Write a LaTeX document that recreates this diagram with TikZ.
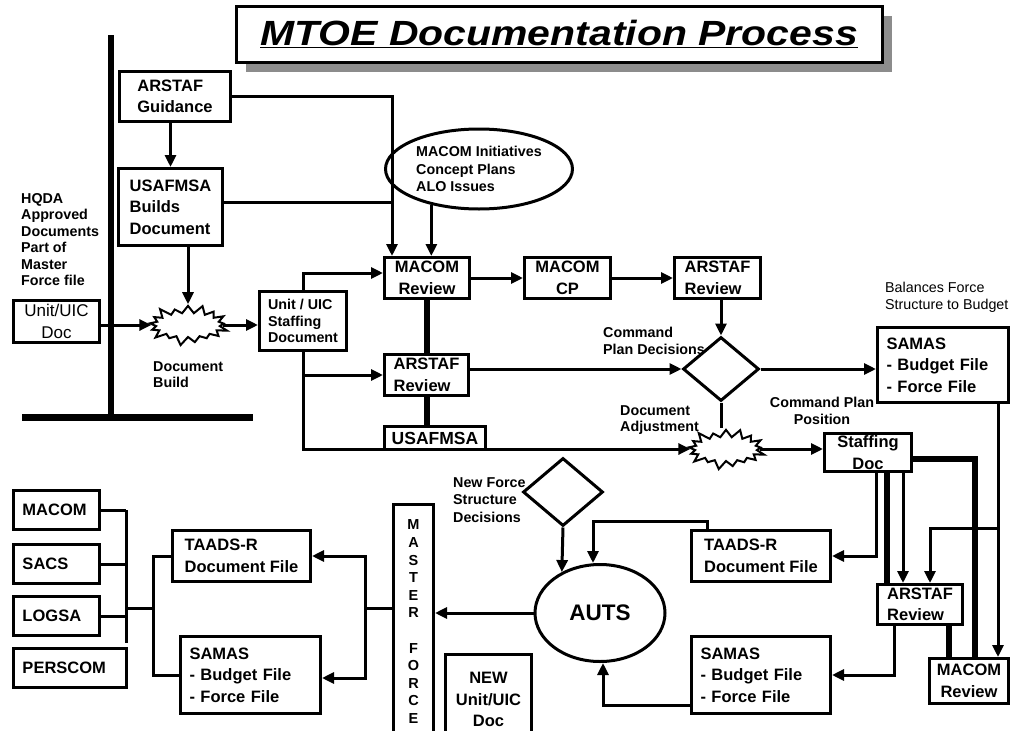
\documentclass[tikz,border=0pt]{standalone}
\usepackage{fontspec}
\setmainfont{Liberation Sans}
\usepackage{tikz}
\usetikzlibrary{arrows.meta,shapes.geometric,shapes.symbols,shadows}

\newcommand{\bxfont}{\fontsize{16.5}{21.5}\selectfont\bfseries}
\newcommand{\ntfont}{\fontsize{14.3}{16.5}\selectfont\bfseries}
\newcommand{\rgfont}{\fontsize{17}{22}\selectfont}
\newcommand{\titlefnt}{\fontsize{35}{40}\selectfont\bfseries\itshape}

\begin{document}
\begin{tikzpicture}[x=1pt, y=-1pt,
    >={Triangle[length=12pt,width=11pt]},
    box/.style={draw, line width=3pt, fill=white, font=\bxfont, align=center, inner sep=2pt},
    sz/.style 2 args={minimum width=#1pt, minimum height=#2pt},
    pad/.style={align=left, inner xsep=9pt, text width=#1pt},
    note/.style={font=\ntfont, align=left, inner sep=0pt, anchor=north west},
    wire/.style={line width=3pt},
    heavy/.style={line width=6pt},
    burst/.style={starburst, draw, line width=2pt, fill=white, starburst points=17,
      starburst point height=10pt, minimum width=84pt, minimum height=44pt, inner sep=0pt},
    gate/.style={diamond, draw, line width=3pt, fill=white, inner sep=0pt}]
        \useasboundingbox (0,0) rectangle (1010,731);

        \node[box, sz={646}{56}, drop shadow={shadow xshift=10pt, shadow yshift=-10pt,
          fill=black!45, opacity=1}] (TTL) at (559,34)
          {\titlefnt\scalebox{1.17}[1]{\underline{MTOE Documentation Process}}};

        \coordinate (VT) at (111,35);
        \coordinate (VB) at (111,414);
        \coordinate (HL) at (22,417);
        \coordinate (HR) at (253,417);
        \draw[line width=6pt] (VT) -- (VB);
        \draw[line width=7pt] (HL) -- (HR);

        \node[box, sz={111}{50}, align=left] (AG) at (175,96.5) {ARSTAF\\Guidance};
        \node[box, sz={104}{77}, align=left] (UB) at (170.5,207) {USAFMSA\\Builds\\Document};
        \node[note] (HQ) at (21,193) {HQDA\\Approved\\Documents\\Part of\\Master\\Force file};
        \node[box, sz={86}{42}, font=\rgfont] (UD) at (56.5,321.5) {Unit/UIC\\Doc};
        \node[burst] (DB) at (188,325) {};
        \node[note] (DBL) at (153,361) {Document\\Build};
        \node[box, sz={87}{59}, font=\ntfont, align=left] (SD) at (303,321)
          {Unit / UIC\\Staffing\\Document};

        \node[draw, ellipse, line width=3pt, fill=white, sz={160}{80},
          font={\fontsize{14.3}{17.5}\selectfont\bfseries}, align=left] (MI) at (479,169)
          {MACOM Initiatives\\Concept Plans\\ALO Issues};
        \node[box, sz={85}{41}] (MR) at (427,278) {MACOM\\Review};
        \node[box, sz={86}{41}] (CP) at (567.5,278) {MACOM\\CP};
        \node[box, sz={86}{41}, align=left] (AR) at (717.5,278) {ARSTAF\\Review};
        \node[box, sz={84}{41}, align=left] (AR2) at (426.5,375) {ARSTAF\\Review};

        \node[gate, sz={76}{64}] (CPD) at (721,369) {};
        \node[note] (CPDL) at (603,327) {Command\\Plan Decisions};
        \node[burst, minimum width=82pt] (DA) at (726,449) {};
        \node[note] (DAL) at (620,405) {Document\\Adjustment};
        \node[note, align=center, anchor=north] (CPP) at (822,397) {Command Plan\\Position};

        \node[note, font=\fontsize{14.3}{16.5}\selectfont] (BAL) at (885,282)
          {Balances Force\\Structure to Budget};
        \node[box, sz={131}{75}, pad=113] (SAM1) at (943,365)
          {SAMAS\\- Budget File\\- Force File};
        \node[box, sz={87}{38}] (SDOC) at (868,452.5) {Staffing\\Doc};
        \node[box, sz={139}{51}, align=left] (TR2) at (761,556) {TAADS-R\\Document File};
        \node[box, sz={139}{77}, pad=121] (SAM2) at (761,675)
          {SAMAS\\- Budget File\\- Force File};
        \node[box, sz={85}{40}, align=left] (AR3) at (920,604.5) {ARSTAF\\Review};
        \node[box, sz={79}{45}] (MR2) at (969,681) {MACOM\\Review};

        \node[gate, sz={80}{68}] (NFS) at (563,492) {};
        \node[note, font={\fontsize{14.3}{17.5}\selectfont\bfseries}] (NFSL) at (453,477)
          {New Force\\Structure\\Decisions};
        \node[draw, ellipse, line width=3pt, fill=white, sz={130}{97},
          font={\fontsize{22.5}{26}\selectfont\bfseries}] (AUTS) at (600,613) {AUTS};

        \node[box, sz={40}{240}] (MF) at (413.5,624.5) {};
        \foreach \ch/\k in {M/0,A/1,S/2,T/3,E/4,R/5,F/7,O/8,R/9,C/10,E/11}
          \node[font=\fontsize{14.5}{16}\selectfont\bfseries, inner sep=0pt] (L\k)
            at (413.5,525+17.6*\k) {\ch};
        \node[box, sz={86}{90}] (NEW) at (488.5,699.5) {NEW\\Unit/UIC\\Doc};

        \node[box, sz={138}{51}, align=left] (TR1) at (241.5,556) {TAADS-R\\Document File};
        \node[box, sz={140}{77}, pad=122] (SAM3) at (250.5,675)
          {SAMAS\\- Budget File\\- Force File};
        \node[box, sz={86}{39}, pad=68] (MAC) at (56.5,510) {MACOM};
        \node[box, sz={86}{39}, pad=68] (SACS) at (56.5,564) {SACS};
        \node[box, sz={86}{39}, pad=68] (LOG) at (56.5,616) {LOGSA};
        \node[box, sz={113}{39}, pad=95] (PER) at (70,667.5) {PERSCOM};

        \coordinate (GD) at ([xshift=-35pt]MR.north);
        \draw[wire,->] (AG.south -| UB.north) -- (UB.north);
        \draw[wire,->] (AG.east) -| (GD);
        \draw[wire] ([yshift=5pt]UB.east) -- ([yshift=5pt]UB.east -| GD);
        \draw[wire,->] (MI.217) -- (MI.217 |- MR.north);
        \draw[wire,->] (UD.east |- DB) -- (DB.west);
        \draw[wire,->] (UB.south -| DB) -- (DB.north);
        \draw[wire,->] (DB.east) -- (DB.east -| SD.west);
        \draw[wire,->] (SD.north) |- ([yshift=5pt]MR.west);
        \draw[wire,->] (SD.south |- AR2.west) -- (AR2.west);
        \draw[wire,->] (SD.south) |- (DA.west);

        \draw[wire,->] (MR) -- (CP);
        \draw[wire,->] (CP) -- (AR);
        \draw[heavy] (MR.south) -- (MR.south |- AR2.north);
        \draw[wire,->] (AR.south -| CPD) -- (CPD.north);
        \draw[wire,->] (AR2.east |- CPD) -- (CPD.west);
        \draw[wire,->] (CPD.east) -- (CPD.east -| SAM1.west);
        \draw[wire] (CPD.south) -- (CPD.south |- DA.north);
        \draw[wire,->] (DA.east) -- (DA.east -| SDOC.west);

        \node[box, sz={101}{23}, inner sep=0pt, font=\fontsize{17.5}{20}\selectfont\bfseries]
          (US) at (435,438) {USAFMSA};
        \draw[heavy] (AR2.south) -- (AR2.south |- US.north);

        \coordinate (SB) at ([xshift=55pt]SAM1.south);
        \draw[wire,->] ([xshift=8pt]SDOC.south) |- (TR2.east);
        \draw[heavy] ([xshift=19pt]SDOC.south) -- ([xshift=19pt]SDOC.south |- AR3.north);
        \draw[wire,->] ([xshift=35pt]SDOC.south) -- ([xshift=35pt]SDOC.south |- AR3.north);
        \draw[heavy] ([yshift=-6pt]SDOC.east) -| ([xshift=6pt]MR2.north);
        \draw[wire,->] (SB) -- (SB |- MR2.north);
        \draw[wire,->] ([yshift=-124pt]SB) -| ([xshift=10pt]AR3.north);
        \draw[wire,->] ([xshift=-26pt]AR3.south) |- (SAM2.east);
        \draw[heavy] ([xshift=29pt]AR3.south) -- ([xshift=29pt]AR3.south |- MR2.north);

        \draw[wire,->] ([xshift=-54pt]TR2.north) -- ++(0,-8) -| ([xshift=-7pt]AUTS.north);
        \draw[wire,->] ([yshift=-30pt]SAM2.west) -| ([xshift=3pt]AUTS.south);
        \draw[wire,->] (NFS.south) -- (AUTS.133);
        \draw[wire,->] (AUTS.west) -- (AUTS.west -| MF.east);

        \coordinate (MJ) at (365,608);
        \coordinate (LJ) at (153,608);
        \coordinate (BT) at (126,510);
        \coordinate (BB) at (126,643);
        \draw[wire] (MF.west |- MJ) -- (MJ);
        \draw[wire,->] (MJ) |- (TR1.east);
        \draw[wire,->] (MJ) |- ([yshift=-3pt]SAM3.east);
        \draw[wire] (TR1.west) -| (LJ |- SAM3.west) -- (SAM3.west);
        \draw[wire] (LJ) -- (LJ -| BT);
        \draw[wire] (BT) -- (BB);
        \foreach \n in {MAC,SACS,LOG}
          \draw[wire] (\n.east) -- (\n.east -| BT);

      \end{tikzpicture}
\end{document}
